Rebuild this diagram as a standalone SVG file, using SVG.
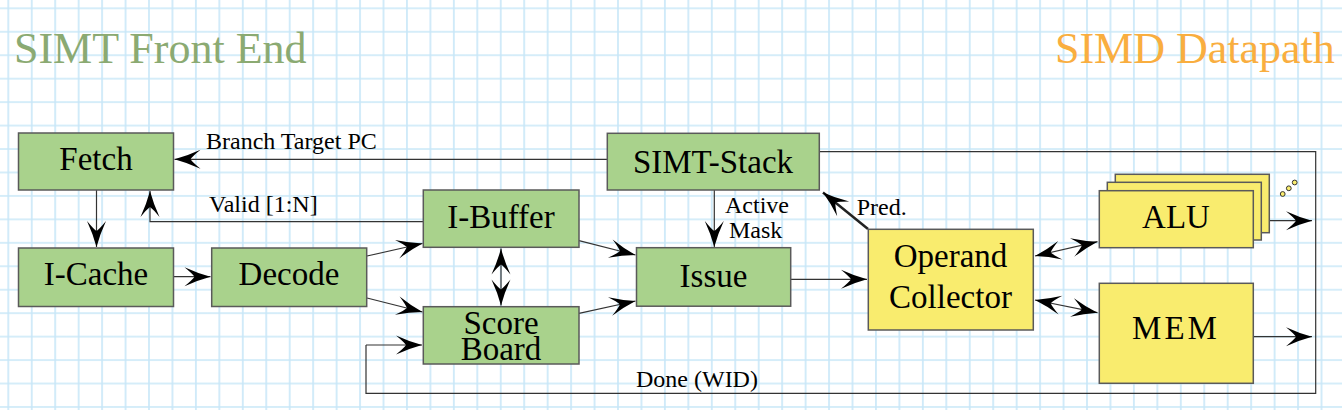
<svg xmlns="http://www.w3.org/2000/svg" width="1342" height="410" viewBox="0 0 1342 410">
<style>
.g{fill:#a9d28c;stroke:#5a5a5a;stroke-width:1.5}
.y{fill:#f9ec6e;stroke:#5a5a5a;stroke-width:1.5}
.nt{font-family:"Liberation Serif","Times New Roman",serif;font-size:33px;fill:#000;text-anchor:middle}
.lb{font-family:"Liberation Serif","Times New Roman",serif;font-size:24px;fill:#000}
.c{fill:none;stroke:#333;stroke-width:1.2}
.ar{marker-end:url(#ah)}
.bi{marker-start:url(#ah);marker-end:url(#ah)}
</style>
<defs>
<pattern id="grid" patternUnits="userSpaceOnUse" x="-3.4" y="-3.4" width="23.45" height="23.45">
<path d="M11.7 0V23.45M0 11.7H23.45" stroke="#c8e7f8" stroke-width="1.6" fill="none"/>
</pattern>
<marker id="ah" markerUnits="userSpaceOnUse" viewBox="-28 -11 30 22" refX="0" refY="0" markerWidth="30" markerHeight="22" orient="auto-start-reverse">
<path d="M0,0 Q-13,-3.5 -26,-9.5 Q-18,-3 -16,0 Q-18,3 -26,9.5 Q-13,3.5 0,0 Z" fill="#000"/>
</marker>
</defs>
<rect width="1342" height="410" fill="#fff"/>
<rect width="1342" height="410" fill="url(#grid)"/>
<g id="titles">
<text x="14" y="63" font-family="Liberation Serif,serif" font-size="44" fill="#8baa72">SIMT Front End</text>
<text x="1055" y="63" font-family="Liberation Serif,serif" font-size="44" fill="#f9ae3f">SIMD Datapath</text>
</g>
<g id="connectors">
<path class="c ar" d="M96.5 190V247"/>
<path class="c ar" d="M173 276.7H210.5"/>
<path class="c ar" d="M607 159.3H174.5"/>
<path class="c ar" d="M423 221.7H150V191"/>
<path class="c ar" d="M367 256L422.5 243.5"/>
<path class="c ar" d="M367 298L422.5 312"/>
<path class="c ar" d="M579 240.7L635.5 255"/>
<path class="c ar" d="M579 313.3L635.5 301"/>
<path class="c bi" d="M501 248.5V305.5"/>
<path class="c ar" d="M714.3 190V247"/>
<path class="c ar" d="M791 279.3H867"/>
<path d="M868 229L823 192.5" fill="none" stroke="#222" stroke-width="2.5" marker-end="url(#ah)"/>
<path class="c bi" d="M1035 256L1097.5 241.7"/>
<path class="c bi" d="M1035 300L1097.5 312.7"/>
<path class="c ar" d="M1269 220.7H1312"/>
<path class="c ar" d="M1253 336.7H1312"/>
<path class="c" d="M819 151.7H1315.7V393.3H366V345"/>
<path class="c ar" d="M366 345H422"/>
<text class="lb" x="206" y="149.3">Branch Target PC</text>
<text class="lb" x="209" y="211.7">Valid [1:N]</text>
<text class="lb" x="725" y="212.7">Active</text>
<text class="lb" x="729" y="238.3">Mask</text>
<text class="lb" x="856.7" y="215">Pred.</text>
<text class="lb" x="636" y="387.3">Done (WID)</text>
</g>
<g id="fetch"><rect class="g" x="18.5" y="133" width="155" height="57"/><text class="nt" x="96" y="170">Fetch</text></g>
<g id="icache"><rect class="g" x="18.5" y="248" width="155" height="58.5"/><text class="nt" x="96" y="285">I-Cache</text></g>
<g id="decode"><rect class="g" x="211.7" y="248" width="155" height="58.5"/><text class="nt" x="289" y="285">Decode</text></g>
<g id="ibuffer"><rect class="g" x="423.3" y="190" width="155.7" height="57.3"/><text class="nt" x="501" y="228.3">I-Buffer</text></g>
<g id="scoreboard"><rect class="g" x="423.3" y="306.7" width="155.7" height="57.3"/><text class="nt" x="501" y="333.5" font-size="31">Score</text><text class="nt" x="501" y="360" font-size="31">Board</text></g>
<g id="simtstack"><rect class="g" x="607.3" y="133.3" width="212" height="56.7"/><text class="nt" x="713" y="172.7">SIMT-Stack</text></g>
<g id="issue"><rect class="g" x="636.5" y="247.7" width="154.2" height="58.5"/><text class="nt" x="713.5" y="286.7">Issue</text></g>
<g id="operand"><rect class="y" x="868.3" y="229.3" width="165" height="100.7"/><text class="nt" x="950.5" y="266.7">Operand</text><text class="nt" x="950.5" y="308.3">Collector</text></g>
<g id="alu">
<rect class="y" x="1115.3" y="174.3" width="154" height="58.4"/>
<rect class="y" x="1107.3" y="182.3" width="154" height="57.7"/>
<rect class="y" x="1099.3" y="190.7" width="154" height="57"/>
<text class="nt" x="1176" y="228.3">ALU</text>
<circle cx="1282.7" cy="194" r="2.4" fill="#f9ec6e" stroke="#333" stroke-width="1"/>
<circle cx="1288.8" cy="188.3" r="2.4" fill="#f9ec6e" stroke="#333" stroke-width="1"/>
<circle cx="1294.7" cy="182.5" r="2.4" fill="#f9ec6e" stroke="#333" stroke-width="1"/>
</g>
<g id="mem"><rect class="y" x="1099.3" y="283.3" width="154" height="100"/><text class="nt" x="1176" y="339.3" letter-spacing="3">MEM</text></g>
</svg>
